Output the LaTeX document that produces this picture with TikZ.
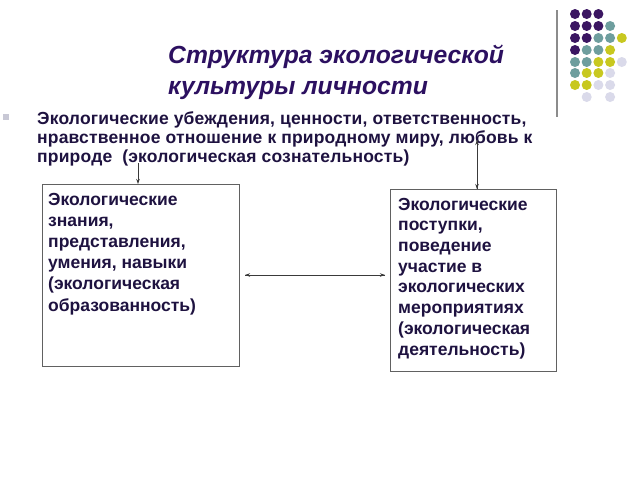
\documentclass[tikz,border=0pt]{standalone}
\usepackage{fontspec}
\setmainfont{Liberation Sans}
\newfontfamily\bodyfont[LetterSpace=1.0]{Liberation Sans}
\usetikzlibrary{arrows.meta}
\definecolor{txt}{HTML}{1E1240}
\definecolor{ttl}{HTML}{2C1060}
\definecolor{dp}{HTML}{3B1662}
\definecolor{dt}{HTML}{6E9E9E}
\definecolor{dy}{HTML}{C8C820}
\definecolor{dl}{HTML}{DADAEA}
\definecolor{ln}{HTML}{3A3A3A}
\tikzset{
  body/.style={anchor=base west, inner sep=0pt, align=left, text=txt,
    font=\bodyfont\fontsize{17.5}{19.3}\selectfont\bfseries},
  boxtxt/.style={anchor=base west, inner sep=0pt, align=left, text=txt,
    font=\fontsize{17.5}{21.2}\selectfont\bfseries},
  frame/.style={draw=ln!80, line width=0.9pt, anchor=north west, inner sep=0pt},
  conn/.style={draw=ln, line width=0.7pt},
  tip/.style={-{Stealth[length=5pt,width=3.5pt]}},
  dot/.style={circle, inner sep=0pt, minimum size=10pt},
}
\begin{document}
\begin{tikzpicture}[x=1pt,y=-1pt]
\useasboundingbox[fill=white] (0,0) rectangle (640,480);
% decoration
\draw[draw=gray!90, line width=1.6pt] (557,10) -- (557,117);
\foreach \r/\lst in {14/{dp,dp,dp},26/{dp,dp,dp,dt},38/{dp,dp,dt,dt,dy},50/{dp,dt,dt,dy},62/{dt,dt,dy,dy,dl},73/{dt,dy,dy,dl},85/{dy,dy,dl,dl}}{
  \foreach \c [count=\i from 0] in \lst {
    \node[dot, fill=\c] (d\r-\i) at (575+11.7*\i,\r) {};
  }
}
\node[dot, fill=dl] (d97-1) at (586.7,97) {};
\node[dot, fill=dl] (d97-3) at (610.1,97) {};
% title
\node[anchor=base west, inner sep=0pt, align=left, text=ttl,
  font=\fontsize{24.7}{31}\selectfont\bfseries\itshape] (title) at (168,94)
  {Структура экологической\\культуры личности};
% bullet
\node[fill=dl!80!gray, inner sep=0pt, minimum size=6pt] (bullet) at (6,117) {};
\node[body] (main) at (37,162.6)
  {Экологические убеждения, ценности, ответственность,\\
   нравственное отношение к природному миру, любовь к\\
   природе\ \ (экологическая сознательность)};
% boxes
\node[frame, minimum width=197pt, minimum height=182pt] (lbox) at (42,184) {};
\node[frame, minimum width=166pt, minimum height=182pt] (rbox) at (390,189) {};
\node[boxtxt] (ltext) at (48,311)
  {Экологические\\знания,\\представления,\\умения, навыки\\(экологическая\\образованность)};
\node[boxtxt, font=\fontsize{17.5}{20.7}\selectfont\bfseries] (rtext) at (398,355)
  {Экологические\\поступки,\\поведение\\участие в\\экологических\\мероприятиях\\(экологическая\\деятельность)};
% connectors
\coordinate (la) at (138,163);
\coordinate (ra) at (477,140);
\coordinate (ha) at (245,275);
\coordinate (hb) at (385,275);
\draw[conn, tip] (la) -- (la |- lbox.north);
\draw[conn, tip] (rbox.north -| ra) -- (ra);
\draw[conn, tip] (ra) -- (ra |- rbox.north);
\draw[conn, tip] (ha) -- (hb);
\draw[conn, tip] (hb) -- (ha);
\end{tikzpicture}
\end{document}
